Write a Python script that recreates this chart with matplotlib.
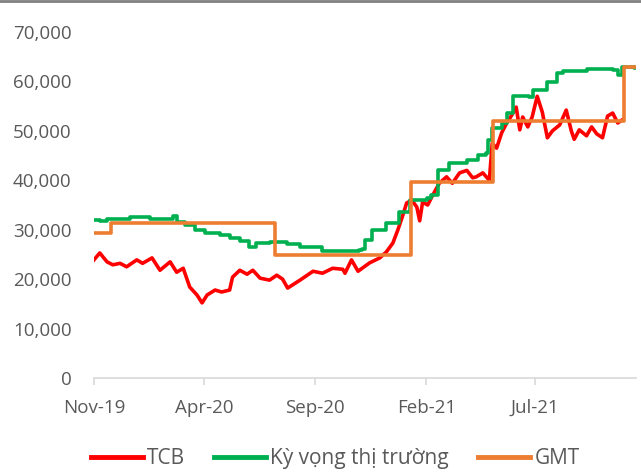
import matplotlib
matplotlib.use("Agg")
import matplotlib.pyplot as plt
import matplotlib.dates as mdates
from matplotlib.lines import Line2D
from matplotlib.ticker import FuncFormatter
import pandas as pd

plt.rcParams['font.family'] = ['Open Sans', 'DejaVu Sans']

# TCB gia co phieu (doc tu hinh)
tcb_dates = ['2019-11-01', '2019-11-09', '2019-11-19', '2019-11-27', '2019-12-07', '2019-12-16',
             '2019-12-30', '2020-01-07', '2020-01-20', '2020-01-31', '2020-02-14', '2020-02-23',
             '2020-03-03', '2020-03-12', '2020-03-22', '2020-03-29', '2020-04-05', '2020-04-16',
             '2020-04-25', '2020-05-06', '2020-05-10', '2020-05-20', '2020-05-30', '2020-06-07',
             '2020-06-17', '2020-06-30', '2020-07-10', '2020-07-18', '2020-07-25', '2020-08-11',
             '2020-08-29', '2020-09-11', '2020-09-25', '2020-10-09', '2020-10-12', '2020-10-21',
             '2020-10-30', '2020-11-15', '2020-11-29', '2020-12-08', '2020-12-17', '2020-12-24',
             '2020-12-30', '2021-01-05', '2021-01-12', '2021-01-19', '2021-01-23', '2021-01-27',
             '2021-02-03', '2021-02-10', '2021-02-19', '2021-03-01', '2021-03-09', '2021-03-19',
             '2021-03-29', '2021-04-06', '2021-04-11', '2021-04-20', '2021-04-29', '2021-05-03',
             '2021-05-09', '2021-05-16', '2021-05-23', '2021-05-30', '2021-06-05', '2021-06-10',
             '2021-06-14', '2021-06-21', '2021-06-27', '2021-07-04', '2021-07-11', '2021-07-18',
             '2021-07-25', '2021-08-04', '2021-08-13', '2021-08-20', '2021-08-24', '2021-08-31',
             '2021-09-10', '2021-09-17', '2021-09-24', '2021-10-02', '2021-10-09', '2021-10-16',
             '2021-10-23', '2021-10-29']
tcb_values = [23900, 25300, 23500, 22900, 23200, 22500,
              23900, 23200, 24300, 21800, 23500, 21400,
              22200, 18400, 16800, 15200, 16800, 17800,
              17400, 17800, 20400, 21800, 21000, 21800,
              20200, 19800, 20800, 20000, 18200, 19800,
              21600, 21200, 22200, 22000, 21200, 23900,
              21600, 23300, 24300, 25500, 27300, 30000,
              32600, 35400, 36000, 34600, 31800, 35600,
              35000, 37000, 39400, 40700, 39400, 41500,
              42000, 40500, 40700, 41500, 40000, 47500,
              46500, 49600, 51600, 53200, 54800, 50200,
              52800, 50800, 52800, 57000, 53800, 48600,
              50000, 51200, 54200, 50000, 48300, 50200,
              49000, 50800, 49400, 48600, 53000, 53600,
              51600, 52200]

# Ky vong thi truong
kv_dates = ['2019-11-01', '2019-11-09', '2019-11-19', '2019-12-14', '2019-12-21', '2020-01-07',
            '2020-01-17', '2020-02-07', '2020-02-18', '2020-02-23', '2020-03-05', '2020-03-19',
            '2020-04-02', '2020-04-23', '2020-05-06', '2020-05-20', '2020-06-02', '2020-06-12',
            '2020-06-30', '2020-07-24', '2020-08-11', '2020-09-11', '2020-11-01', '2020-11-05',
            '2020-11-08', '2020-11-18', '2020-12-08', '2020-12-26', '2021-01-09', '2021-02-02',
            '2021-02-08', '2021-02-17', '2021-03-05', '2021-03-29', '2021-04-13', '2021-04-25',
            '2021-04-27', '2021-05-03', '2021-05-16', '2021-05-24', '2021-05-31', '2021-06-23',
            '2021-06-28', '2021-07-17', '2021-07-31', '2021-08-08', '2021-09-10', '2021-10-16',
            '2021-10-23', '2021-10-29', '2021-11-16']
kv_values = [32000, 31800, 32200, 32200, 32600, 32500,
             32100, 32200, 32700, 31600, 31000, 30000,
             29300, 29000, 28300, 27800, 26500, 27300,
             27500, 27200, 26500, 25700, 25900, 26100,
             27900, 30000, 31400, 33600, 36000, 36400,
             37000, 42000, 43500, 44100, 45100, 45500,
             48100, 50600, 51600, 53600, 57000, 56800,
             58300, 59900, 61700, 62100, 62500, 62300,
             61300, 62900, 62700]

# GMT (gia muc tieu)
gmt_dates = ['2019-11-01', '2019-11-24', '2020-07-07', '2021-01-11', '2021-05-04', '2021-10-31', '2021-11-16']
gmt_values = [29300, 31300, 24800, 39600, 52000, 63000, 63000]

tcb = pd.Series(tcb_values, index=pd.to_datetime(tcb_dates))
kv = pd.Series(kv_values, index=pd.to_datetime(kv_dates))
gmt = pd.Series(gmt_values, index=pd.to_datetime(gmt_dates))

text_color = '#595959'

fig = plt.figure(figsize=(6.41, 4.74), dpi=100)
ax = fig.add_axes([0.1466, 0.2025, 0.8454, 0.73])

ax.plot(tcb.index, tcb.values, color='#FF0000', lw=2.6, label='TCB', solid_joinstyle='round')
ax.plot(kv.index, kv.values, color='#00B050', lw=2.6, label='Kỳ vọng thị trường',
        drawstyle='steps-post', solid_joinstyle='round')
ax.step(gmt.index, gmt.values, where='post', color='#ED7D31', lw=2.6, label='GMT')

ax.set_ylim(0, 70000)
ax.set_yticks(range(0, 70001, 10000))
ax.yaxis.set_major_formatter(FuncFormatter(lambda v, p: f'{int(v):,}'))
ax.set_xlim(pd.Timestamp('2019-11-01'), pd.Timestamp('2021-11-17'))
ax.set_xticks(pd.to_datetime(['2019-11-01', '2020-04-01', '2020-09-01', '2021-02-01', '2021-07-01']))
ax.xaxis.set_major_formatter(mdates.DateFormatter('%b-%y'))

for s in ['top', 'right', 'left']:
    ax.spines[s].set_visible(False)
ax.spines['bottom'].set_color('#D9D9D9')
ax.spines['bottom'].set_linewidth(1.2)
ax.tick_params(axis='y', length=0, pad=16, labelsize=13.5, labelcolor=text_color)
ax.tick_params(axis='x', length=5, width=1.2, color='#D9D9D9', pad=10, labelsize=13.5, labelcolor=text_color)

leg = fig.legend(loc='center', bbox_to_anchor=(0.523, 0.032), ncol=3, frameon=False,
                 fontsize=15, handlelength=2.5, handletextpad=0.2, columnspacing=1.4)
for t in leg.get_texts():
    t.set_color(text_color)
for h in leg.get_lines():
    h.set_linewidth(3.5)

# duong vien tren cung
fig.add_artist(Line2D([0, 1], [0.997, 0.997], transform=fig.transFigure, color='#808080', lw=2))

fig.savefig('out.png', dpi=100)
